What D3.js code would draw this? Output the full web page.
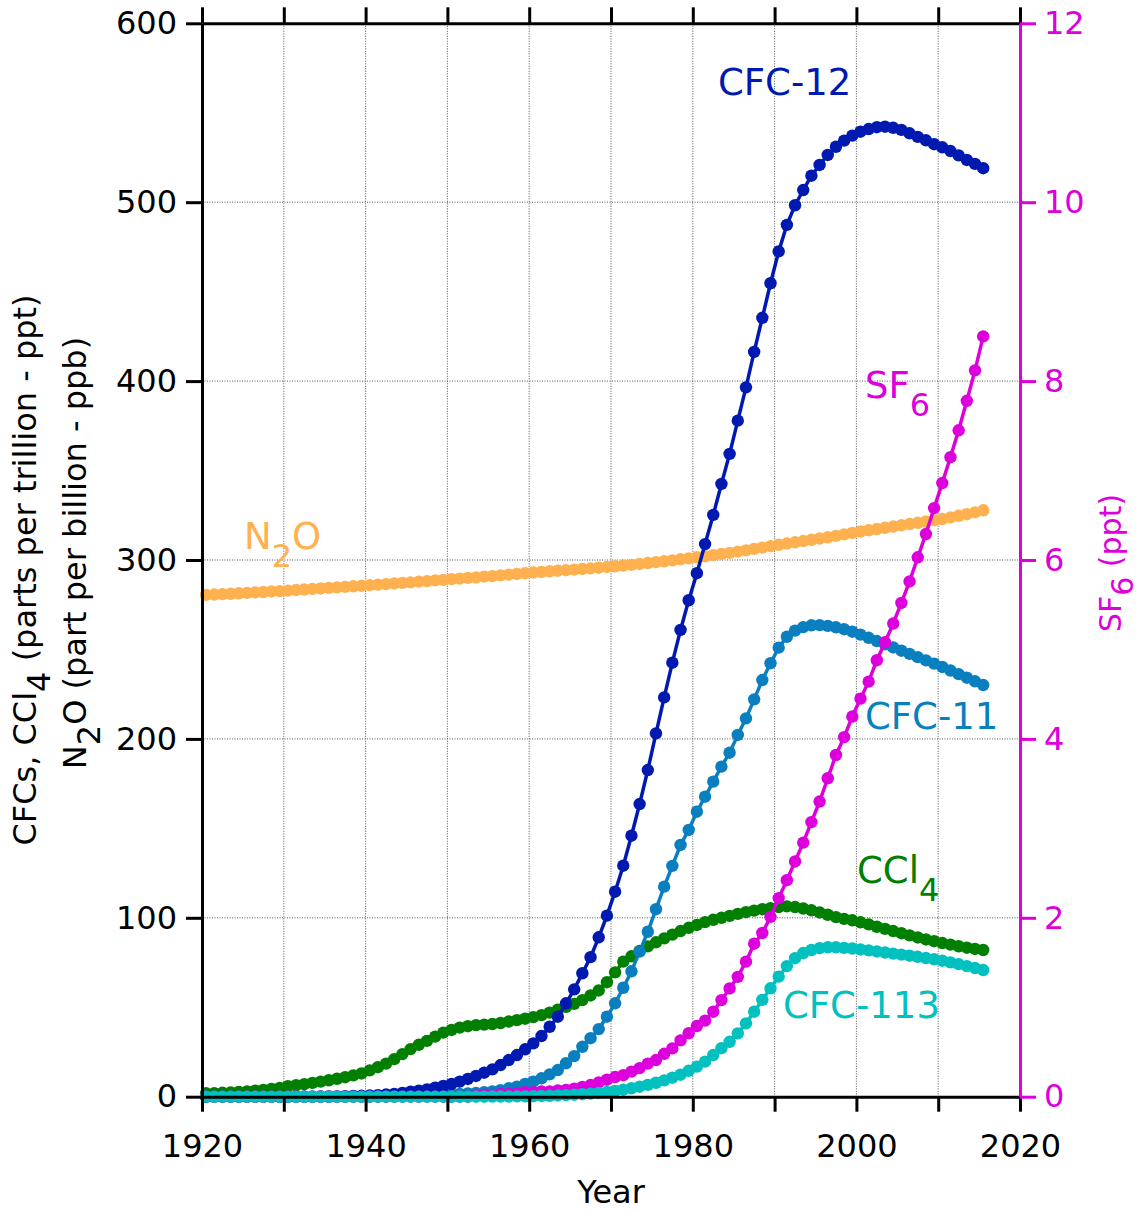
<!DOCTYPE html>
<html>
<head>
<meta charset="utf-8">
<script src="https://cdn.jsdelivr.net/npm/d3@7"></script>
<style>
  body { margin: 0; background: #fff; }
  text { font-family: "DejaVu Sans", Verdana, sans-serif; }
</style>
</head>
<body>
<div id="chart"></div>
<script>
// one value per year, mid-year 1920.5 ... 2015.5
var years = d3.range(1920.5, 2016, 1);

// CFC-12 (ppt)
var cfc12 = [
  0, 0, 0, 0, 0, 0, 0, 0, 0, 0,
  0, 0, 0, 0, 0.1, 0.1, 0.2, 0.3, 0.4, 0.5,
  0.7, 0.9, 1.2, 1.6, 2.1, 2.8, 3.4, 4.1, 5.0, 6.0,
  7.1, 8.4, 9.9, 11.6, 13.4, 15.3, 17.7, 20.5, 23.3, 26.5,
  29.8, 33.9, 39.1, 44.7, 52.2, 60, 69, 78, 89.1, 101.2,
  114.6, 129.1, 145.9, 163.6, 182.6, 203.1, 223.2, 242.6, 260.9, 277.5,
  292.6, 308.9, 325.2, 342.5, 359.3, 377.9, 396.5, 416.3, 435.4, 454.7,
  472.5, 487.3, 498.3, 506.8, 514.8, 520.8, 526.4, 531, 534.4, 537.2,
  539.4, 540.9, 541.9, 542.2, 541.6, 540.4, 538.5, 536.5, 534.6, 532.4,
  530.7, 528.6, 526.2, 523.6, 521.4, 519
];

// CFC-11 (ppt)
var cfc11 = [
  0, 0, 0, 0, 0, 0, 0, 0, 0, 0,
  0, 0, 0, 0, 0, 0, 0, 0, 0.1, 0.1,
  0.1, 0.2, 0.2, 0.3, 0.4, 0.5, 0.6, 0.8, 1.0, 1.2,
  1.4, 1.6, 1.8, 2.1, 2.5, 3.0, 3.7, 4.7, 5.6, 7.1,
  8.4, 10.3, 12.5, 14.9, 18.7, 22.7, 27.9, 32.7, 37.8, 44.7,
  52.2, 60.9, 70.1, 81.1, 92.2, 104.8, 117.4, 129, 140.7, 149.1,
  159.3, 167.7, 176.1, 184.5, 192.3, 202.2, 211.5, 222.1, 232.9, 242.3,
  251, 257.1, 260.5, 262.5, 263.5, 263.6, 263.2, 262.4, 261.3, 259.9,
  258.3, 256.5, 254.7, 252.9, 251.1, 249.3, 247.5, 245.7, 243.9, 242.1,
  240.2, 238.2, 236.2, 234.2, 232.2, 230.1
];

// CCl4 (ppt)
var ccl4 = [
  1.9, 2.0, 2.2, 2.4, 2.7, 3.0, 3.4, 3.8, 4.3, 4.9,
  5.9, 6.4, 7.0, 7.7, 8.4, 9.2, 10.0, 10.9, 11.9, 13.0,
  14.7, 16.5, 18.5, 21.0, 23.8, 26.6, 29.0, 31.2, 33.6, 35.8,
  37.3, 38.6, 39.4, 40.0, 40.3, 40.6, 41.2, 42.0, 42.8, 43.6,
  44.5, 45.6, 47.0, 48.6, 50.2, 51.9, 54.0, 56.6, 59.4, 64.0,
  69.5, 75.5, 78.5, 81.5, 84.0, 86.3, 88.5, 90.6, 92.6, 94.4,
  96.0, 97.6, 98.9, 100.0, 101.1, 102.2, 103.2, 104.0, 104.8, 105.4,
  106.0, 106.4, 106.0, 105.2, 104.2, 103.0, 101.7, 100.4, 99.4, 98.6,
  97.5, 96.3, 95.0, 93.8, 92.6, 91.4, 90.2, 89.0, 87.9, 86.9,
  85.9, 85.0, 84.1, 83.3, 82.6, 82.0
];

// CFC-113 (ppt)
var cfc113 = [
  0, 0, 0, 0, 0, 0, 0, 0, 0, 0,
  0, 0, 0, 0, 0, 0, 0, 0, 0, 0,
  0, 0, 0, 0, 0, 0, 0, 0, 0, 0,
  0, 0, 0, 0, 0, 0.1, 0.1, 0.1, 0.2, 0.2,
  0.3, 0.4, 0.5, 0.7, 0.9, 1.1, 1.4, 1.7, 2.1, 2.6,
  3.2, 3.9, 4.7, 5.6, 6.6, 7.8, 9.1, 10.6, 12.3, 14.5,
  16.8, 19.6, 23.3, 27.1, 30.7, 35.4, 41, 47.5, 54.1, 60.6,
  67.1, 73.0, 77.4, 80.3, 82.0, 83.0, 83.5, 83.5, 83.2, 82.8,
  82.3, 81.8, 81.2, 80.6, 80.0, 79.4, 78.8, 78.2, 77.5, 76.8,
  76.0, 75.1, 74.1, 73.0, 71.9, 70.8
];

// N2O (ppb)
var n2o = [
  280.5, 280.7, 280.9, 281.1, 281.4, 281.6, 281.9, 282.1, 282.4, 282.6,
  282.9, 283.2, 283.5, 283.8, 284.1, 284.4, 284.7, 285.0, 285.3, 285.6,
  285.9, 286.2, 286.5, 286.9, 287.2, 287.5, 287.9, 288.2, 288.6, 288.9,
  289.3, 289.6, 290.0, 290.3, 290.7, 291.0, 291.4, 291.8, 292.2, 292.6,
  293.0, 293.3, 293.7, 294.0, 294.3, 294.6, 295.0, 295.3, 295.7, 296.1,
  296.5, 296.9, 297.3, 297.8, 298.3, 298.8, 299.3, 299.8, 300.4, 300.9,
  301.5, 302.1, 302.7, 303.4, 304.0, 304.7, 305.4, 306.2, 306.9, 307.7,
  308.5, 309.2, 309.9, 310.6, 311.3, 312.0, 312.7, 313.5, 314.3, 315.1,
  315.9, 316.6, 317.3, 318.0, 318.7, 319.4, 320.1, 320.8, 321.5, 322.2,
  322.9, 323.8, 324.7, 325.6, 326.6, 327.8
];

// SF6 (ppt, right axis)
var sf6 = [
  0, 0, 0, 0, 0, 0, 0, 0, 0, 0,
  0, 0, 0, 0, 0, 0, 0, 0, 0, 0,
  0, 0, 0, 0, 0, 0, 0, 0, 0, 0,
  0, 0, 0, 0.01, 0.02, 0.02, 0.03, 0.03, 0.04, 0.05,
  0.05, 0.06, 0.06, 0.07, 0.075, 0.09, 0.11, 0.13, 0.16, 0.19,
  0.22, 0.24, 0.28, 0.32, 0.37, 0.41, 0.48, 0.54, 0.63, 0.71,
  0.79, 0.85, 0.95, 1.08, 1.21, 1.34, 1.51, 1.71, 1.83, 2.01,
  2.22, 2.42, 2.63, 2.84, 3.07, 3.30, 3.56, 3.82, 4.02, 4.25,
  4.45, 4.64, 4.88, 5.08, 5.29, 5.52, 5.76, 6.03, 6.29, 6.58,
  6.86, 7.15, 7.45, 7.78, 8.12, 8.5
];

var leftTicks = [0, 100, 200, 300, 400, 500, 600];
var rightTicks = [0, 2, 4, 6, 8, 10, 12];
var yearTicks = d3.range(1920, 2021, 10);

var width = 1142, height = 1211;
var margin = { left: 202, right: 122, top: 23.3, bottom: 114.3 };

var x = d3.scaleLinear().domain([1920, 2020]).range([margin.left, width - margin.right]);
var y = d3.scaleLinear().domain([0, 600]).range([height - margin.bottom, margin.top]);
var y2 = d3.scaleLinear().domain([0, 12]).range([height - margin.bottom, margin.top]);

var svg = d3.select('#chart').append('svg')
    .attr('width', width)
    .attr('height', height);

// grid
var grid = svg.append('g')
    .attr('stroke', '#555')
    .attr('stroke-width', 1)
    .attr('stroke-dasharray', '1,1.5');
grid.selectAll('line.v')
    .data(yearTicks.slice(1, -1))
    .enter().append('line')
    .attr('class', 'v')
    .attr('x1', d => x(d)).attr('x2', d => x(d))
    .attr('y1', y(600)).attr('y2', y(0));
grid.selectAll('line.h')
    .data(leftTicks.slice(1, -1))
    .enter().append('line')
    .attr('class', 'h')
    .attr('x1', x(1920)).attr('x2', x(2020))
    .attr('y1', d => y(d)).attr('y2', d => y(d));

// series
var series = [
    { vals: n2o, color: '#ffb04f', scale: y },
    { vals: ccl4, color: '#007f00', scale: y },
    { vals: cfc11, color: '#0a7fc0', scale: y },
    { vals: cfc12, color: '#0019b0', scale: y },
    { vals: sf6, color: '#dd00dd', scale: y2 },
    { vals: cfc113, color: '#00c0c0', scale: y }
];

series.forEach(function (s) {
    var pts = years.map((yr, i) => [yr, s.vals[i]]);
    var line = d3.line()
        .x(d => x(d[0]))
        .y(d => s.scale(d[1]));
    var g = svg.append('g');
    g.append('path')
        .datum(pts)
        .attr('d', line)
        .attr('fill', 'none')
        .attr('stroke', s.color)
        .attr('stroke-width', 3.5);
    g.selectAll('circle')
        .data(pts)
        .enter().append('circle')
        .attr('cx', d => x(d[0]))
        .attr('cy', d => s.scale(d[1]))
        .attr('r', 6.2)
        .attr('fill', s.color);
});

// axes
function styleAxis(g, color, size) {
    g.attr('font-family', null).attr('font-size', null);
    g.select('.domain').attr('stroke', color).attr('stroke-width', 3);
    g.selectAll('.tick line').attr('stroke', color).attr('stroke-width', 3);
    g.selectAll('.tick text').attr('fill', color).attr('font-size', size);
}

svg.append('g')
    .attr('transform', 'translate(0,' + y(0) + ')')
    .call(d3.axisBottom(x).tickValues(yearTicks).tickSize(15).tickSizeOuter(0).tickPadding(23)
        .tickFormat(d => d % 20 == 0 ? d : ''))
    .call(g => styleAxis(g, '#000', 32));

svg.append('g')
    .attr('transform', 'translate(0,' + y(600) + ')')
    .call(d3.axisTop(x).tickValues(yearTicks).tickSize(16).tickSizeOuter(0).tickFormat(''))
    .call(g => styleAxis(g, '#000', 32));

svg.append('g')
    .attr('transform', 'translate(' + x(1920) + ',0)')
    .call(d3.axisLeft(y).tickValues(leftTicks).tickSize(16).tickSizeOuter(0).tickPadding(9))
    .call(g => styleAxis(g, '#000', 32));

svg.append('g')
    .attr('transform', 'translate(' + x(2020) + ',0)')
    .call(d3.axisRight(y2).tickValues(rightTicks).tickSize(16).tickSizeOuter(0).tickPadding(8))
    .call(g => styleAxis(g, '#dd00dd', 32));

// axis titles
svg.append('text')
    .attr('x', x(1970)).attr('y', 1203)
    .attr('text-anchor', 'middle')
    .attr('font-size', 32)
    .text('Year');

// text with subscripts: parts = [{t}, {t, sub:true}, ...]
function subText(el, parts, sub, subSize) {
    var shift = 0;
    parts.forEach(function (p) {
        var ts = el.append('tspan').text(p.t);
        var target = p.sub ? sub : 0;
        if (target != shift) ts.attr('dy', target - shift);
        if (p.sub && subSize) ts.attr('font-size', subSize);
        shift = target;
    });
}

var yl1 = svg.append('text')
    .attr('transform', 'translate(36,570) rotate(-90)')
    .attr('text-anchor', 'middle')
    .attr('font-size', 32);
subText(yl1, [{ t: 'CFCs, CCl' }, { t: '4', sub: true }, { t: ' (parts per trillion - ppt)' }], 14);

var yl2 = svg.append('text')
    .attr('transform', 'translate(86,553) rotate(-90)')
    .attr('text-anchor', 'middle')
    .attr('font-size', 32);
subText(yl2, [{ t: 'N' }, { t: '2', sub: true }, { t: 'O (part per billion - ppb)' }], 14);

var yr = svg.append('text')
    .attr('transform', 'translate(1121,563) rotate(-90)')
    .attr('text-anchor', 'middle')
    .attr('font-size', 30)
    .attr('fill', '#dd00dd');
subText(yr, [{ t: 'SF' }, { t: '6', sub: true }, { t: ' (ppt)' }], 12);

// series labels
var labels = [
    { parts: [{ t: 'CFC-12' }], x: 718, y: 95, color: '#0019b0' },
    { parts: [{ t: 'SF' }, { t: '6', sub: true }], x: 865, y: 398, color: '#dd00dd' },
    { parts: [{ t: 'N' }, { t: '2', sub: true }, { t: 'O' }], x: 244, y: 549, color: '#ffb04f' },
    { parts: [{ t: 'CFC-11' }], x: 865, y: 729, color: '#0a7fc0' },
    { parts: [{ t: 'CCl' }, { t: '4', sub: true }], x: 857, y: 883, color: '#007f00' },
    { parts: [{ t: 'CFC-113' }], x: 783, y: 1018, color: '#00c0c0' }
];
labels.forEach(function (l) {
    var t = svg.append('text')
        .attr('x', l.x).attr('y', l.y)
        .attr('font-size', 37)
        .attr('fill', l.color);
    subText(t, l.parts, 18, 32);
});
</script>
</body>
</html>
